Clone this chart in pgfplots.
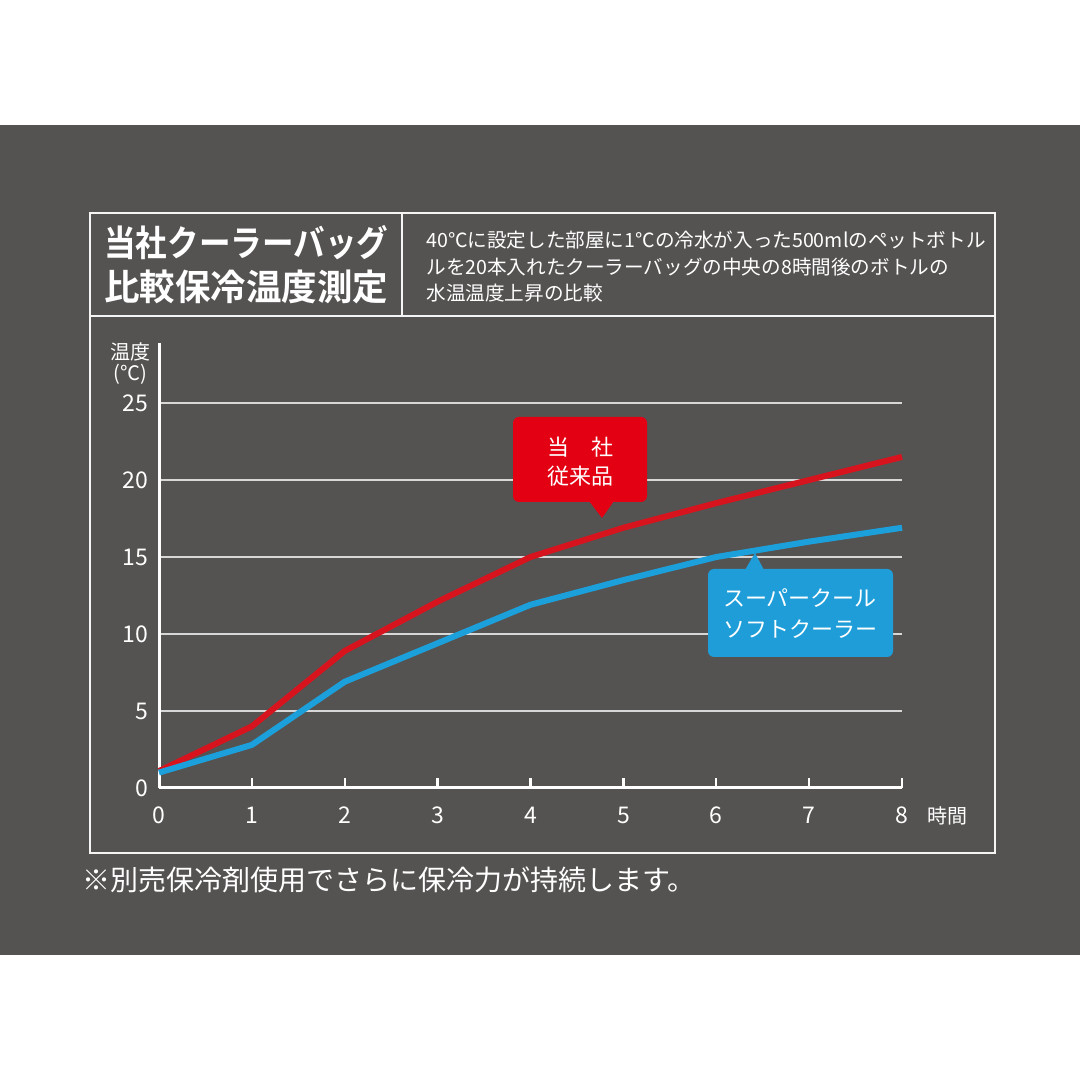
\documentclass[border=0pt]{standalone}
\usepackage{fontspec}
\setmainfont{Noto Sans CJK JP}
\newfontfamily\jpb{Noto Sans CJK JP Bold}
\usepackage{pgfplots}
\pgfplotsset{compat=1.18}
\definecolor{bgray}{RGB}{85,83,82}
\definecolor{gridc}{RGB}{215,215,215}
\definecolor{redl}{RGB}{215,20,30}
\definecolor{bluel}{RGB}{27,160,220}
\definecolor{redc}{RGB}{228,0,18}
\definecolor{bluec}{RGB}{30,157,217}
\begin{document}
\begin{tikzpicture}[x=0.5pt,y=0.5pt]
\fill[white] (0,0) rectangle (1080,1080);
\fill[bgray] (0,125) rectangle (1080,955);
\draw[white!92!gray, line width=1.3pt] (90,227) rectangle (995,867);
\draw[white!92!gray, line width=1.3pt] (90,764) -- (995,764);
\draw[white!92!gray, line width=1.3pt] (402,764) -- (402,867);
\node[anchor=west, text=white, inner sep=0] at (104,837) {\scalebox{0.877}[1]{\jpb\fontsize{18pt}{20pt}\selectfont 当社クーラーバッグ}};
\node[anchor=west, text=white, inner sep=0] at (104,793) {\scalebox{0.986}[1]{\jpb\fontsize{18pt}{20pt}\selectfont 比較保冷温度測定}};
\node[anchor=west, text=white, inner sep=0] at (426,840) {\fontsize{9.8pt}{12pt}\selectfont 40℃に設定した部屋に1℃の冷水が入った500mlのペットボトル};
\node[anchor=west, text=white, inner sep=0] at (426,813) {\fontsize{9.8pt}{12pt}\selectfont ルを20本入れたクーラーバッグの中央の8時間後のボトルの};
\node[anchor=west, text=white, inner sep=0] at (426,787) {\fontsize{9.8pt}{12pt}\selectfont 水温温度上昇の比較};
\node[text=white, inner sep=0] at (130,728) {\fontsize{10pt}{12pt}\selectfont 温度};
\node[text=white, inner sep=0] at (130,706) {\fontsize{10pt}{12pt}\selectfont (℃)};
\node[text=white, inner sep=0] at (947,264) {\fontsize{10pt}{12pt}\selectfont 時間};
\node[anchor=west, text=white, inner sep=0] at (82,200) {\fontsize{14pt}{16pt}\selectfont ※別売保冷剤使用でさらに保冷力が持続します。};
\begin{axis}[
  at={(79.5pt,146pt)}, anchor=origin,
  scale only axis, width=371.5pt, height=222.5pt,
  xmin=0, xmax=8, ymin=0, ymax=28.9,
  axis x line=bottom, axis y line=left,
  axis line style={-, white, line width=1.5pt},
  xtick={0,...,8}, ytick={0,5,10,15,20,25},
  ymajorgrids, grid style={gridc, line width=1pt},
  tick align=inside, major tick length=5pt,
  xtick style={white, line width=1.2pt},
  ytick style={draw=none},
  /pgf/number format/assume math mode=true,
  ticklabel style={font=\fontsize{11.5pt}{13pt}\selectfont, text=white},
  xticklabel style={yshift=-6pt},
  yticklabel style={xshift=-2pt},
  clip=false,
]
\addplot[redl, line width=3pt, line join=round] coordinates {
(0,1.1) (1,4.0) (2,8.9) (3,12.1) (4,15.0) (5,16.9) (6,18.5) (7,20.0) (8,21.5)};
\addplot[bluel, line width=3pt, line join=round] coordinates {
(0,1.0) (1,2.8) (2,6.9) (3,9.4) (4,11.9) (5,13.5) (6,15.0) (7,16.0) (8,16.9)};
\end{axis}
\fill[redc, rounded corners=3pt] (513,578) rectangle (647,663);
\fill[redc] (589,579) -- (614,579) -- (602,562) -- cycle;
\node[text=white, inner sep=0] at (580,633) {\fontsize{11pt}{13pt}\selectfont 当　社};
\node[text=white, inner sep=0] at (580,604) {\fontsize{11pt}{13pt}\selectfont 従来品};
\fill[bluec, rounded corners=3pt] (708,423) rectangle (893,511);
\fill[bluec] (745,510) -- (764,510) -- (755,527) -- cycle;
\node[text=white, inner sep=0] at (800,482) {\fontsize{11pt}{13pt}\selectfont スーパークール};
\node[text=white, inner sep=0] at (800,451) {\fontsize{11pt}{13pt}\selectfont ソフトクーラー};
\end{tikzpicture}
\end{document}
